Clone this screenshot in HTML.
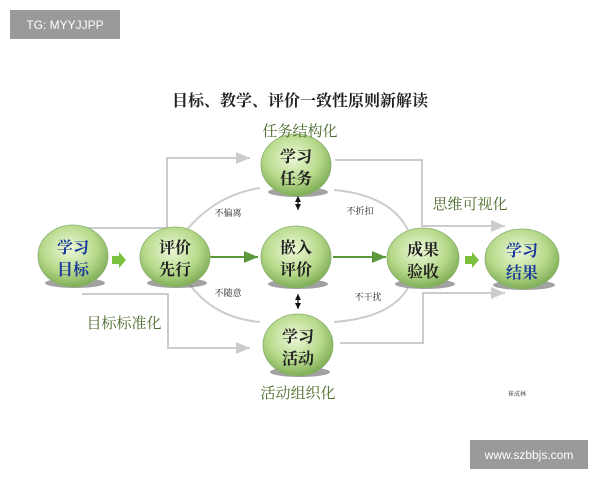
<!DOCTYPE html>
<html><head><meta charset="utf-8"><style>
body{margin:0;width:600px;height:480px;background:#fff;overflow:hidden;position:relative;font-family:"Liberation Sans","Noto Sans CJK SC",sans-serif}
.wm{position:absolute;background:#9a9a9a;color:#fff;font-size:12px;display:flex;align-items:center;justify-content:center}
</style></head><body>
<div class="wm" style="left:10px;top:10px;width:110px;height:29px">TG: MYYJJPP</div>
<div class="wm" style="left:470px;top:440px;width:118px;height:29px">www.szbbjs.com</div>
<svg width="600" height="480" style="position:absolute;left:0;top:0" font-family="Noto Serif CJK SC, Noto Sans CJK SC, serif">
<defs>
<radialGradient id="g" cx="45%" cy="38%" r="65%">
<stop offset="0" stop-color="#eef8d8"/><stop offset="0.6" stop-color="#b6d98a"/><stop offset="1" stop-color="#78a850"/></radialGradient>
<marker id="ga" markerWidth="8" markerHeight="8" refX="7" refY="4" orient="auto"><path d="M0,1 L7,4 L0,7z" fill="#ccc"/></marker>
<marker id="gr" markerWidth="8" markerHeight="8" refX="7" refY="4" orient="auto"><path d="M0,1 L7,4 L0,7z" fill="#5a9a3a"/></marker>
<marker id="bk" markerWidth="6" markerHeight="6" refX="5" refY="3" orient="auto-start-reverse"><path d="M0,0.5 L5,3 L0,5.5z" fill="#111"/></marker>
</defs>
<text x="300" y="106" text-anchor="middle" font-size="16" font-weight="bold" fill="#222">目标、教学、评价一致性原则新解读</text>
<g fill="none" stroke="#ccc" stroke-width="2">
<path d="M82,228 H167 V158 H250" marker-end="url(#ga)"/>
<path d="M82,294 H168 V348 H250" marker-end="url(#ga)"/>
<path d="M335,160 H422 V226 H505" marker-end="url(#ga)"/>
<path d="M340,343 H423 V293 H505" marker-end="url(#ga)"/>
<path d="M185,232 Q215,195 260,188"/>
<path d="M190,285 Q215,318 260,322"/>
<path d="M334,190 Q390,195 408,230"/>
<path d="M334,322 Q390,318 408,288"/>
</g>
<g stroke="#5a9a3a" stroke-width="2">
<line x1="210" y1="257" x2="258" y2="257" marker-end="url(#gr)"/>
<line x1="333" y1="257" x2="386" y2="257" marker-end="url(#gr)"/>
</g>
<path d="M112,256 h7 v-4 l7,8 l-7,8 v-4 h-7z" fill="#7cc040"/>
<path d="M465,256 h7 v-4 l7,8 l-7,8 v-4 h-7z" fill="#7cc040"/>
<g stroke="#111" stroke-width="1.2">
<line x1="298" y1="196" x2="298" y2="210" marker-start="url(#bk)" marker-end="url(#bk)"/>
<line x1="298" y1="294" x2="298" y2="309" marker-start="url(#bk)" marker-end="url(#bk)"/>
</g>
<g fill="#555" opacity="0.55">
<ellipse cx="75" cy="283" rx="30" ry="5"/><ellipse cx="177" cy="283" rx="30" ry="5"/>
<ellipse cx="298" cy="192" rx="30" ry="5"/><ellipse cx="298" cy="284" rx="30" ry="5"/>
<ellipse cx="300" cy="372" rx="30" ry="5"/><ellipse cx="425" cy="284" rx="30" ry="5"/>
<ellipse cx="524" cy="285" rx="31" ry="5"/>
</g>
<g stroke="#8ab070" stroke-width="0.8">
<ellipse cx="73" cy="256" rx="35" ry="31" fill="url(#g)"/>
<ellipse cx="175" cy="257" rx="35" ry="30" fill="url(#g)"/>
<ellipse cx="296" cy="165" rx="35" ry="31" fill="url(#g)"/>
<ellipse cx="296" cy="257" rx="35" ry="31" fill="url(#g)"/>
<ellipse cx="298" cy="345" rx="35" ry="31" fill="url(#g)"/>
<ellipse cx="423" cy="258" rx="36" ry="30" fill="url(#g)"/>
<ellipse cx="522" cy="259" rx="37" ry="30" fill="url(#g)"/>
</g>
<g font-size="16" font-weight="bold" text-anchor="middle">
<text x="73" y="253" fill="#1a3a9a">学习</text><text x="73" y="275" fill="#1a3a9a">目标</text>
<text x="175" y="253" fill="#222">评价</text><text x="175" y="275" fill="#222">先行</text>
<text x="296" y="162" fill="#222">学习</text><text x="296" y="184" fill="#222">任务</text>
<text x="296" y="253" fill="#222">嵌入</text><text x="296" y="275" fill="#222">评价</text>
<text x="298" y="342" fill="#222">学习</text><text x="298" y="364" fill="#222">活动</text>
<text x="423" y="255" fill="#222">成果</text><text x="423" y="277" fill="#222">验收</text>
<text x="522" y="256" fill="#1a3a9a">学习</text><text x="522" y="278" fill="#1a3a9a">结果</text>
</g>
<g font-size="15" fill="#4a6a2a" text-anchor="middle">
<text x="300" y="136">任务结构化</text>
<text x="470" y="209">思维可视化</text>
<text x="124" y="328">目标标准化</text>
<text x="298" y="398">活动组织化</text>
</g>
<g font-size="9" fill="#222" text-anchor="middle">
<text x="228" y="216">不偏离</text><text x="228" y="296">不随意</text>
<text x="360" y="214">不折扣</text><text x="368" y="300">不干扰</text>
<text x="517" y="396" font-size="6">崔成林</text>
</g>
</svg>
</body></html>
